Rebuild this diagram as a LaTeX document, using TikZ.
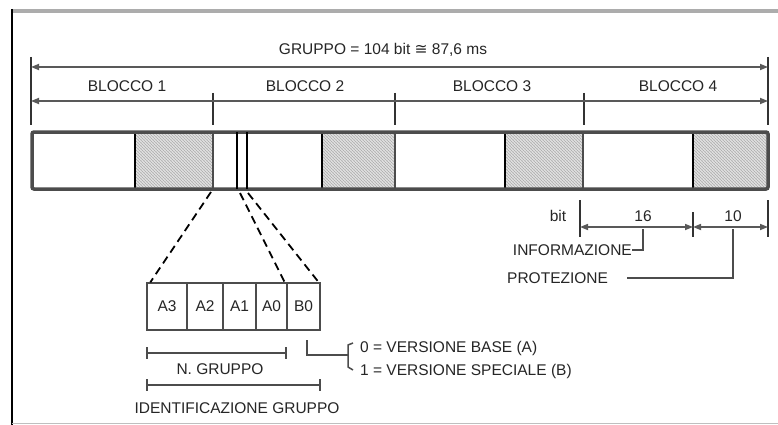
\documentclass[tikz,border=0pt]{standalone}
\usepackage{fontspec}
\setmainfont{Liberation Sans}
\newfontfamily\dejavu{DejaVu Sans}
\usetikzlibrary{arrows.meta,patterns}
\begin{document}
\begin{tikzpicture}[x=1pt,y=-1pt,
  lbl/.style={font=\fontsize{15.5}{17}\selectfont, inner sep=0pt, text=black!85},
  dimline/.style={draw=black!65, line width=1.6pt},
  tickline/.style={draw=black!80, line width=1.3pt},
  tip/.style={arrows={Triangle[length=8pt,width=6pt]-Triangle[length=8pt,width=6pt]}},
  hatchbox/.style={fill=gray!22, postaction={pattern=crosshatch dots, pattern color=gray!75}},
  cell/.style={draw=black!70, line width=1.4pt, minimum height=47pt, inner sep=0pt, font=\fontsize{15.5}{17}\selectfont, text=black!85},
  dashl/.style={draw=black, line width=1.8pt, dash pattern=on 8pt off 5pt},
  leader/.style={draw=black!70, line width=1.5pt}]
\useasboundingbox (0,0) rectangle (778,425);
\fill[white] (0,0) rectangle (778,425);
% frame
\draw[gray!65, line width=4pt] (11,11) -- (778,11);
\draw[black, line width=2.5pt] (12,9) -- (12,425);
\draw[gray!50, line width=1pt] (12,423) -- (778,423);

% top dimensions
\coordinate (gL) at (31,67); \coordinate (gR) at (768,67);
\coordinate (bL) at (31,101); \coordinate (bR) at (768,101);
\coordinate (t0a) at (31,57); \coordinate (t0b) at (31,125);
\coordinate (t4a) at (768,57); \coordinate (t4b) at (768,125);
\draw[tickline] (t0a) -- (t0b);
\draw[tickline] (t4a) -- (t4b);
\foreach \x/\n in {213/1,395/2,584/3}{
  \coordinate (tk\n a) at (\x,93); \coordinate (tk\n b) at (\x,125);
  \draw[tickline] (tk\n a) -- (tk\n b);
}
\draw[dimline, tip] (gL) -- (gR);
\draw[dimline, tip] (bL) -- (bR);
\node[lbl] (title) at (383,50) {GRUPPO = 104 bit {\dejavu ≅} 87,6 ms};
\node[lbl] (b1) at (127,86) {BLOCCO 1};
\node[lbl] (b2) at (305,86) {BLOCCO 2};
\node[lbl] (b3) at (492,86) {BLOCCO 3};
\node[lbl] (b4) at (678,86) {BLOCCO 4};

% bar
\foreach \a/\b in {135/213,322/395,505/583,693/768}{
  \path[hatchbox] (\a,132) rectangle (\b,189);
  \path[pattern=north west lines, pattern color=gray!60] (\a,132) rectangle (\b,189);
  \draw[black, line width=2pt] (\a,132) -- (\a,189);
  \draw[black!70, line width=2pt] (\b,132) -- (\b,189);
}
\draw[gray!60!black, line width=3.5pt, rounded corners=2pt] (32,132) rectangle (768,189);
\coordinate (s1) at (237,132); \coordinate (s1b) at (237,189);
\coordinate (s2) at (247,132); \coordinate (s2b) at (247,189);
\draw[black, line width=1.8pt] (s1) -- (s1b);
\draw[black, line width=1.8pt] (s2) -- (s2b);

% cells
\node[cell, minimum width=40pt] (a3) at (167,306.5) {A3};
\node[cell, minimum width=36pt] (a2) at (205,306.5) {A2};
\node[cell, minimum width=33pt] (a1) at (239.5,306.5) {A1};
\node[cell, minimum width=31pt] (a0) at (271.5,306.5) {A0};
\node[cell, minimum width=33pt] (b0) at (303.5,306.5) {B0};

\coordinate (d1) at (211,192);
\coordinate (d2) at (240,193);
\coordinate (d3) at (248,193);
\draw[dashl] (d1) -- ([xshift=4pt]a3.north west);
\draw[dashl] (d2) -- ([xshift=-3pt]a0.north east);
\draw[dashl] (d3) -- ([xshift=-2pt]b0.north east);

% brackets below cells
\coordinate (n1) at (147,353); \coordinate (n2) at (286,353);
\draw[leader] (n1) -- (n2);
\draw[leader] (147,347) -- (147,359);
\draw[leader] (286,347) -- (286,359);
\node[lbl] (ngr) at (220,369) {N. GRUPPO};
\coordinate (i1) at (147,385); \coordinate (i2) at (320,385);
\draw[leader] (i1) -- (i2);
\draw[leader] (147,379) -- (147,391);
\draw[leader] (320,379) -- (320,391);
\node[lbl] (idg) at (237,408) {IDENTIFICAZIONE GRUPPO};

% B0 leader and brace
\coordinate (v0) at (307,340);
\coordinate (vm) at (348,355);
\draw[leader] (v0) -- (307,355) -- (vm);
\draw[leader] (353,343) -- (348,345) -- (348,367) -- (353,370);
\node[lbl, anchor=west] (v0t) at (360,348) {0 = VERSIONE BASE (A)};
\node[lbl, anchor=west] (v1t) at (360,371) {1 = VERSIONE SPECIALE (B)};

% bottom right dimensions
\coordinate (r1) at (580,227); \coordinate (r2) at (693,227); \coordinate (r3) at (768,227);
\draw[tickline] (580,200) -- (580,237);
\draw[tickline] (693,212) -- (693,237);
\draw[tickline] (768,200) -- (768,237);
\draw[dimline, tip] (r1) -- (r2);
\draw[dimline, tip] (r2) -- (r3);
\node[lbl] (bit) at (558,216) {bit};
\node[lbl] (n16) at (643,216) {16};
\node[lbl] (n10) at (733,216) {10};
\node[lbl, anchor=east] (info) at (632,250) {INFORMAZIONE};
\node[lbl, anchor=west] (prot) at (507,278) {PROTEZIONE};
\draw[leader] (643,229) -- (643,250) -- (info.east);
\draw[leader] (733,229) -- (733,278) -- (627,278);
\end{tikzpicture}
\end{document}
